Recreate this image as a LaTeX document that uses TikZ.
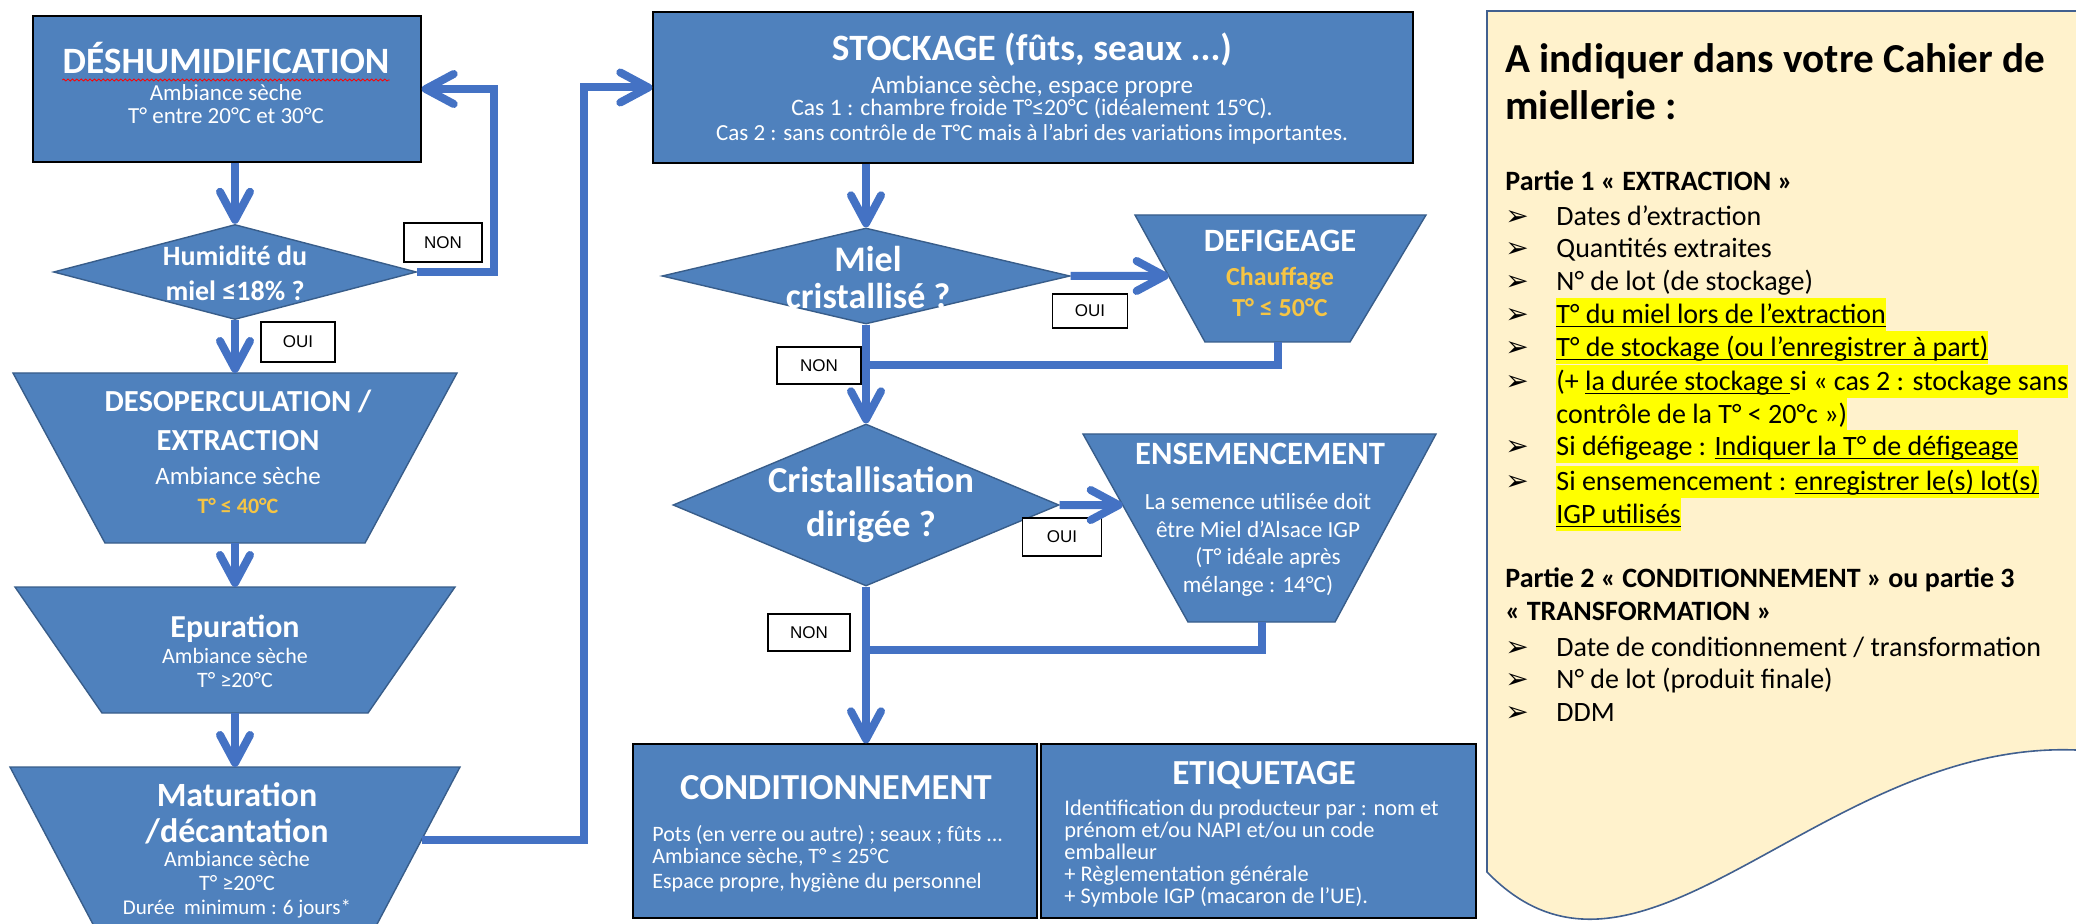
\documentclass[tikz,border=0pt]{standalone}
\usepackage{fontspec}
\setmainfont{Carlito}
\newfontfamily\arialf{Liberation Sans}
\newfontfamily\dejavu{DejaVu Sans}
\usetikzlibrary{arrows.meta,shapes.geometric,calc,decorations.pathmorphing}
\definecolor{boxblue}{HTML}{4F81BD}
\definecolor{boxedge}{HTML}{385D8A}
\definecolor{linkblue}{HTML}{4472C4}
\definecolor{tyellow}{HTML}{F6C544}
\definecolor{panelfill}{HTML}{FFF2CC}
\definecolor{paneledge}{HTML}{41608F}
\definecolor{hly}{HTML}{FFFF00}
\newcommand\setfs[2]{\fontsize{#1}{#2}\selectfont}
\newcommand\hlbox[1]{{\setlength{\fboxsep}{0pt}\colorbox{hly}{\rule[-4pt]{0pt}{16.5pt}#1}}}
\newsavebox\ulxbox
\newcommand\ulx[1]{\sbox\ulxbox{#1}\rlap{\rule[-1.7pt]{\wd\ulxbox}{0.6pt}}\usebox\ulxbox}
\begin{document}
\begin{tikzpicture}[x=0.5pt,y=-0.5pt,
  blockrect/.style={draw=black, line width=0.7pt, fill=boxblue, inner sep=0pt},
  trap/.style={draw=boxedge, line width=0.7pt, fill=boxblue},
  dia/.style={diamond, draw=boxedge, line width=0.7pt, fill=boxblue, inner sep=0pt},
  wt/.style={text=white, inner sep=0pt, anchor=base},
  wtl/.style={text=white, inner sep=0pt, anchor=base west},
  link/.style={draw=linkblue, line width=4pt, line join=miter},
  arr/.style={link, -{Straight Barb[length=14pt,width=15pt,round]}},
  tag/.style={draw=black, line width=0.6pt, fill=white, inner sep=0pt, font=\arialf\setfs{8.5}{10}},
  pt/.style={inner sep=0pt, anchor=base west, text=black},
  bt/.style={pt, font=\setfs{14}{16}},
  hd/.style={pt, font=\setfs{14}{16}\bfseries},
  bmark/.style={pt, font=\dejavu\setfs{14}{16}},
  ttl/.style={wt, font=\setfs{17}{20}\bfseries},
  sml/.style={wt, font=\setfs{11}{13}},
  yel/.style={wt, text=tyellow, font=\setfs{11}{13}\bfseries}
]
\useasboundingbox (0,0) rectangle (2076,924);
\clip (0,0) rectangle (2076,924);

% ---------- right panel ----------
\filldraw[fill=panelfill, draw=paneledge, line width=0.8pt] (2090,11) -- (1487,11) -- (1487,872) .. controls (1640,1030) and (1820,740) .. (2076,750) -- (2090,750);

\node[pt, font=\setfs{20.6}{24}\bfseries] (pt1) at (1505,72.5) {A indiquer dans votre Cahier de};
\node[pt, font=\setfs{20.6}{24}\bfseries] (pt2) at (1505,119.5) {miellerie :};
\node[hd] (ph1) at (1505,190.5) {Partie 1 « EXTRACTION »};
\foreach \yy [count=\k] in {225.5,257.5,290.5,323.5,356.5,390.5,455.5,490.5,656.5,688.5,721.5}
  \node[bmark] (bm\k) at (1505,\yy) {➢};
\node[bt] (l1) at (1556,225.5) {Dates d’extraction};
\node[bt] (l2) at (1556,257.5) {Quantités extraites};
\node[bt] (l3) at (1556,290.5) {N° de lot (de stockage)};
\node[bt] (l4) at (1556,323.5) {\hlbox{\ulx{T° du miel lors de l’extraction}}};
\node[bt] (l5) at (1556,356.5) {\hlbox{\ulx{T° de stockage (ou l’enregistrer à part)}}};
\node[bt] (l6) at (1556,390.5) {\hlbox{(+ \ulx{la durée stockage }si « cas 2 : stockage sans}};
\node[bt] (l7) at (1556,423.5) {\hlbox{contrôle de la T° < 20°c »)}};
\node[bt] (l8) at (1556,455.5) {\hlbox{Si défigeage : \ulx{Indiquer la T° de défigeage}}};
\node[bt] (l9) at (1556,490.5) {\hlbox{Si ensemencement : \ulx{enregistrer le(s) lot(s)}}};
\node[bt] (l10) at (1556,523.5) {\hlbox{\ulx{IGP utilisés}}};
\node[hd] (ph2) at (1505,587.5) {Partie 2 « CONDITIONNEMENT » ou partie 3};
\node[hd] (ph3) at (1505,620.5) {« TRANSFORMATION »};
\node[bt] (l11) at (1556,656.5) {Date de conditionnement / transformation};
\node[bt] (l12) at (1556,688.5) {N° de lot (produit finale)};
\node[bt] (l13) at (1556,721.5) {DDM};

% ---------- left column ----------
\node[blockrect, minimum width=194pt, minimum height=73pt] (deshum) at (227,89) {};
\node[wt, font=\setfs{18.6}{21}\bfseries] (deshum-t) at (226,74) {DÉSHUMIDIFICATION};
\draw[red, line width=0.4pt, decorate, decoration={snake, amplitude=0.5pt, segment length=2.2pt}]
  ($(deshum-t.base west)+(0,6)$) -- ($(deshum-t.base east)+(0,6)$);
\node[wt, font=\setfs{11.5}{13}] (deshum-s1) at (226,100.5) {Ambiance sèche};
\node[wt, font=\setfs{11.5}{13}] (deshum-s2) at (226,123.5) {T° entre 20°C et 30°C};

\node[dia, minimum width=181.5pt, minimum height=47.5pt] (hum) at (235,272) {};
\node[wt, font=\setfs{14}{16}\bfseries] (hum-t1) at (235,265.5) {Humidité du};
\node[wt, font=\setfs{14}{16}\bfseries] (hum-t2) at (235,300.5) {miel ≤18\% ?};
\node[tag, minimum width=39pt, minimum height=19.5pt] (non1) at (443,242.5) {NON};
\node[tag, minimum width=37pt, minimum height=20pt] (oui1) at (298,342) {OUI};

\coordinate (dtl) at (13,373); \coordinate (dtr) at (457,373);
\coordinate (dbr) at (365,543); \coordinate (dbl) at (105,543);
\filldraw[trap] (dtl) -- (dtr) -- (dbr) -- (dbl) -- cycle;
\node[wt, font=\setfs{15.3}{18}\bfseries] (desop-t1) at (238,412) {DESOPERCULATION /};
\node[wt, font=\setfs{15.3}{18}\bfseries] (desop-t2) at (238,451) {EXTRACTION};
\node[wt, font=\setfs{12.5}{14}] (desop-s1) at (238,484.5) {Ambiance sèche};
\node[yel] (desop-s2) at (238,514) {T° ≤ 40°C};

\coordinate (etl) at (15,587); \coordinate (etr) at (455,587);
\coordinate (ebr) at (368,713); \coordinate (ebl) at (102,713);
\filldraw[trap] (etl) -- (etr) -- (ebr) -- (ebl) -- cycle;
\node[wt, font=\setfs{16}{19}\bfseries] (epur-t) at (235,637) {Epuration};
\node[sml] (epur-s1) at (235,663.5) {Ambiance sèche};
\node[sml] (epur-s2) at (235,687.5) {T° ≥20°C};
\coordinate (eb) at ($(ebl)!0.5!(ebr)$);

\coordinate (mtl) at (10,767); \coordinate (mtr) at (460,767);
\coordinate (mbr) at (337,1000); \coordinate (mbl) at (133,1000);
\filldraw[trap] (mtl) -- (mtr) -- (mbr) -- (mbl) -- cycle;
\node[ttl] (matur-t1) at (237,806) {Maturation};
\node[ttl] (matur-t2) at (237,842) {/décantation};
\node[sml] (matur-s1) at (237,866.5) {Ambiance sèche};
\node[sml] (matur-s2) at (237,890.5) {T° ≥20°C};
\node[wt, font=\setfs{10.5}{12}] (matur-s3) at (237,914.5) {Durée\ \ minimum : 6 jours*};
\coordinate (mout) at ($(mtr)!0.313!(mbr)$);

% ---------- middle column ----------
\node[blockrect, minimum width=380pt, minimum height=75.5pt] (stock) at (1033,87.5) {};
\node[wt, font=\setfs{18.6}{21}\bfseries] (stock-t) at (1032,61) {STOCKAGE (fûts, seaux ...)};
\node[wt, font=\setfs{12.5}{14}] (stock-s1) at (1032,94) {Ambiance sèche, espace propre};
\node[wt, font=\setfs{11.8}{14}] (stock-s2) at (1032,116) {Cas 1 : chambre froide T°≤20°C (idéalement 15°C).};
\node[wt, font=\setfs{11.5}{14}] (stock-s3) at (1032,141) {Cas 2 : sans contrôle de T°C mais à l’abri des variations importantes.};

\node[dia, minimum width=204pt, minimum height=48pt] (miel) at (866,276) {};
\node[wt, font=\setfs{18}{21}\bfseries] (miel-t1) at (868,271.5) {Miel};
\node[wt, font=\setfs{18}{21}\bfseries] (miel-t2) at (868,308.5) {cristallisé ?};
\node[tag, minimum width=37.5pt, minimum height=17pt] (oui2) at (1090,311) {OUI};
\node[tag, minimum width=42pt, minimum height=18.5pt] (non2) at (819,365.5) {NON};

\coordinate (ftl) at (1135,215); \coordinate (ftr) at (1426,215);
\coordinate (fbr) at (1350,342); \coordinate (fbl) at (1205,342);
\filldraw[trap] (ftl) -- (ftr) -- (fbr) -- (fbl) -- cycle;
\node[wt, font=\setfs{16.3}{19}\bfseries] (defig-t) at (1280,252) {DEFIGEAGE};
\node[yel, font=\setfs{13}{15}\bfseries] (defig-s1) at (1280,286) {Chauffage};
\node[yel, font=\setfs{13}{15}\bfseries] (defig-s2) at (1280,317) {T° ≤ 50°C};
\coordinate (fin) at ($(ftl)!0.48!(fbl)$);
\coordinate (j1) at (866,365);

\node[dia, minimum width=193pt, minimum height=81pt] (crist) at (866,505) {};
\node[wt, font=\setfs{18.3}{21}\bfseries] (crist-t1) at (871,493) {Cristallisation};
\node[wt, font=\setfs{18.3}{21}\bfseries] (crist-t2) at (871,537) {dirigée ?};
\node[tag, minimum width=39.5pt, minimum height=19pt] (oui3) at (1062,537) {OUI};
\node[tag, minimum width=41pt, minimum height=18.5pt] (non3) at (809,632.5) {NON};

\coordinate (ntl) at (1083,434); \coordinate (ntr) at (1436,434);
\coordinate (nbr) at (1335,622); \coordinate (nbl) at (1188,622);
\filldraw[trap] (ntl) -- (ntr) -- (nbr) -- (nbl) -- cycle;
\node[wt, font=\setfs{16.3}{19}\bfseries] (ens-t) at (1260,465) {ENSEMENCEMENT};
\node[wt, font=\setfs{11.6}{13}] (ens-s1) at (1258,509.5) {La semence utilisée doit};
\node[wt, font=\setfs{11.6}{13}] (ens-s2) at (1258,537.5) {être Miel d’Alsace IGP};
\node[wt, font=\setfs{11.6}{13}] (ens-s3) at (1268,564.5) {(T° idéale après};
\node[wt, font=\setfs{11.6}{13}] (ens-s4) at (1258,592.5) {mélange : 14°C)};
\coordinate (nin) at ($(ntl)!0.378!(nbl)$);
\coordinate (j2) at (866,650);

\node[blockrect, minimum width=202pt, minimum height=87pt] (cond) at (835,831) {};
\node[wt, font=\setfs{18.3}{21}\bfseries] (cond-t) at (836,799) {CONDITIONNEMENT};
\node[wtl, font=\setfs{11}{13}] (cond-s1) at (652,841) {Pots (en verre ou autre) ; seaux ; fûts ...};
\node[wtl, font=\setfs{11}{13}] (cond-s2) at (652,863) {Ambiance sèche, T° ≤ 25°C};
\node[wtl, font=\setfs{11}{13}] (cond-s3) at (652,888) {Espace propre, hygiène du personnel};

\node[blockrect, minimum width=217.5pt, minimum height=87pt] (etiq) at (1258.5,831) {};
\node[wt, font=\setfs{17.6}{20}\bfseries] (etiq-t) at (1264,784) {ETIQUETAGE};
\node[wtl, font=\setfs{11.2}{13}] (etiq-s1) at (1064,815) {Identification du producteur par : nom et};
\node[wtl, font=\setfs{11.2}{13}] (etiq-s2) at (1064,837) {prénom et/ou NAPI et/ou un code};
\node[wtl, font=\setfs{11.2}{13}] (etiq-s3) at (1064,859) {emballeur};
\node[wtl, font=\setfs{11.2}{13}] (etiq-s4) at (1064,881) {+ Règlementation générale};
\node[wtl, font=\setfs{11.2}{13}] (etiq-s5) at (1064,903) {+ Symbole IGP (macaron de l’UE).};

% ---------- connectors ----------
\draw[arr] (deshum.south -| hum.north) -- (hum.north);
\draw[arr] (hum.east) -| ($(deshum.east)+(72,0)$) -- (deshum.east);
\draw[arr] (hum.south) -- (hum.south |- dtl);
\draw[arr] ($(dbl)!0.5!(dbr)$) -- ($(etl)!0.5!(etr)$);
\draw[arr] (eb) -- (eb |- mtl);
\draw[arr] (mout) -| ($(stock.west)+(-68,0)$) -- (stock.west);
\draw[arr] (stock.south -| miel.north) -- (miel.north);
\draw[arr] (miel.east) -- (fin);
\draw[link] ($(fbl)!0.5!(fbr)$) |- (j1);
\draw[arr] (miel.south) -- (crist.north);
\draw[arr] (crist.east) -- (nin);
\draw[link] ($(nbl)!0.5!(nbr)$) |- (j2);
\draw[arr] (crist.south) -- (crist.south |- cond.north);
\end{tikzpicture}
\end{document}
